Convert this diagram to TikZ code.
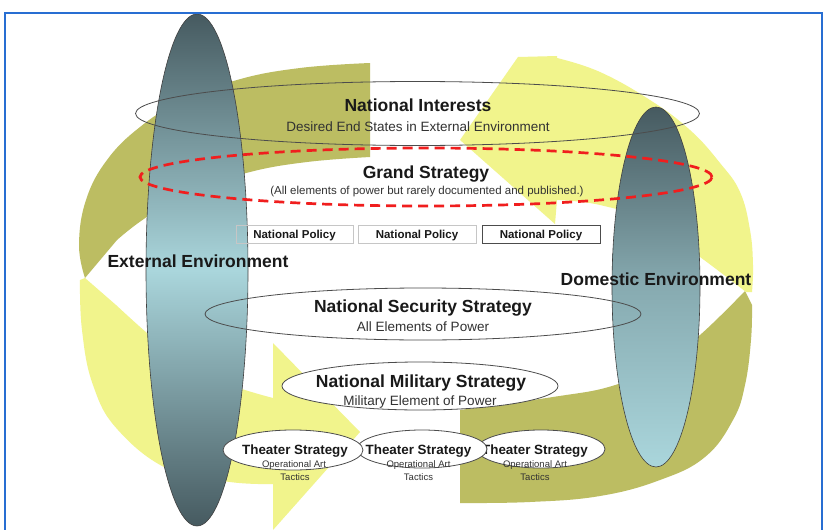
\documentclass[tikz,border=0pt]{standalone}
\usepackage{fontspec}
\setmainfont{Liberation Sans}
\usetikzlibrary{shapes.geometric}
\definecolor{olv}{RGB}{188,189,98}
\definecolor{ylw}{RGB}{241,244,140}
\definecolor{slate}{RGB}{70,90,96}
\definecolor{cyanl}{RGB}{170,214,220}
\definecolor{frameblue}{RGB}{40,110,210}
\definecolor{reddash}{RGB}{240,30,30}
\definecolor{txt}{RGB}{25,25,25}
\definecolor{subtxt}{RGB}{50,50,50}
\begin{document}
\begin{tikzpicture}[x=1pt,y=-1pt,
  ttl/.style={font=\fontsize{17.5}{20}\selectfont\bfseries, text=txt, anchor=base, inner sep=0},
  subt/.style={font=\fontsize{13.5}{16}\selectfont, text=subtxt, anchor=base, inner sep=0},
  smallsub/.style={font=\fontsize{11.5}{13}\selectfont, text=subtxt, anchor=base, inner sep=0},
  poltxt/.style={font=\fontsize{11.5}{13}\selectfont\bfseries, text=txt, anchor=base, inner sep=0},
  thttl/.style={font=\fontsize{13.4}{15}\selectfont\bfseries, text=txt, anchor=base, inner sep=0},
  thsub/.style={font=\fontsize{9.5}{11}\selectfont, text=subtxt, anchor=base, inner sep=0},
  ovl/.style={ellipse, draw=black!70, line width=0.8pt, inner sep=0},
  tall/.style={ellipse, draw=black!75, line width=0.6pt, inner sep=0},
  polbox/.style={draw=gray!45, line width=0.8pt, inner sep=0, minimum height=18pt}
]
\useasboundingbox (0,0) rectangle (825,530);
\fill[white] (0,0) rectangle (825,530);

% ---- background cycle arrows ----
\fill[ylw] plot[smooth, tension=0.7] coordinates {(80,280) (82,330) (93,385) (118,430) (170,470) (230,482) (273,484)}
  -- (273,530) -- (360,432) -- (273,343)
  -- plot[smooth, tension=0.7] coordinates {(273,398) (225,383) (180,360) (147,333) (116,305)}
  -- (85,278) -- cycle;
\fill[olv] plot[smooth, tension=0.7] coordinates {(370,63) (300,68) (237,80) (180,102) (140,127) (107,160) (86,200) (79,245) (85,278)}
  -- plot[smooth, tension=0.7] coordinates {(117,240) (150,215) (200,189) (250,172) (307,162) (370,157)}
  -- cycle;
\fill[olv] plot[smooth, tension=0.7] coordinates {(460,410) (553,397) (612,386) (660,365) (700,335) (745,291)}
  -- plot[smooth, tension=0.7] coordinates {(752,305) (751,340) (745,385) (733,420) (705,457) (660,480) (600,496) (530,502) (460,503)}
  -- cycle;
\fill[ylw] plot[smooth, tension=0.7] coordinates {(746,292) (700,257) (650,222) (600,205) (557,200)}
  -- (555,224) -- (460,140) -- (518,57) -- (557,56)
  -- plot[smooth, tension=0.7] coordinates {(557,58) (600,72) (650,100) (690,130) (720,163) (740,192) (750,230) (753,265) (752,292)}
  -- cycle;

% ---- environment ellipses ----
\node[tall, minimum width=102pt, minimum height=512pt, top color=slate, bottom color=slate, middle color=cyanl] (ext) at (197,270) {};
\node[tall, minimum width=88pt, minimum height=360pt, top color=slate, bottom color=cyanl, middle color=cyanl!65!slate] (dom) at (656,287) {};

% ---- national interests / grand strategy ----
\node[ovl, minimum width=564pt, minimum height=64pt] (ni) at (417.5,113.5) {};
\node[ttl] (nit) at (418,111) {National Interests};
\node[subt] (nis) at (418,131) {Desired End States in External Environment};

\node[ellipse, draw=reddash, line width=2.7pt, dash pattern=on 10pt off 6pt, inner sep=0, minimum width=572pt, minimum height=58pt] (gs) at (426,177) {};
\node[ttl] (gst) at (426,178) {Grand Strategy};
\node[smallsub] (gss) at (427,194) {(All elements of power but rarely documented and published.)};

% ---- national policy boxes ----
\node[polbox, minimum width=117pt] (p1) at (294.5,234) {};
\node[polbox, minimum width=118pt] (p2) at (417,234) {};
\node[polbox, draw=black!70, minimum width=118pt] (p3) at (541,234) {};
\node[poltxt] (p1t) at (294.5,238.2) {National Policy};
\node[poltxt] (p2t) at (417,238.2) {National Policy};
\node[poltxt] (p3t) at (541,238.2) {National Policy};

% ---- environment labels ----
\node[ttl] (extt) at (198,267) {External Environment};
\node[ttl] (domt) at (656,285) {Domestic Environment};

% ---- national security strategy ----
\node[ovl, minimum width=436pt, minimum height=52pt] (nss) at (423,314) {};
\node[ttl] (nsst) at (423,312) {National Security Strategy};
\node[subt] (nsss) at (423,331) {All Elements of Power};

% ---- national military strategy ----
\node[ovl, fill=white, minimum width=276pt, minimum height=48pt] (nms) at (420,386) {};
\node[ttl] (nmst) at (421,387) {National Military Strategy};
\node[subt] (nmss) at (420,405) {Military Element of Power};

% ---- theater strategies ----
\node[ovl, fill=white, minimum width=128pt, minimum height=38pt] (th3) at (541,449) {};
\node[thttl] (th3t) at (535,454) {Theater Strategy};
\node[thsub] (th3o) at (535,467.4) {Operational Art};
\node[thsub] (th3c) at (535,480.4) {Tactics};

\node[ovl, fill=white, minimum width=130pt, minimum height=38pt] (th2) at (422,449) {};
\node[thttl] (th2t) at (418.5,454) {Theater Strategy};
\node[thsub] (th2o) at (418.5,467.4) {Operational Art};
\node[thsub] (th2c) at (418.5,480.4) {Tactics};

\node[ovl, fill=white, minimum width=140pt, minimum height=40pt] (th1) at (293,450) {};
\node[thttl] (th1t) at (295,454) {Theater Strategy};
\node[thsub] (th1o) at (294,467.4) {Operational Art};
\node[thsub] (th1c) at (295,480.4) {Tactics};

% ---- frame ----
\draw[frameblue, line width=2pt] (5,540) -- (5,13) -- (822,13) -- (822,540);
\end{tikzpicture}
\end{document}
